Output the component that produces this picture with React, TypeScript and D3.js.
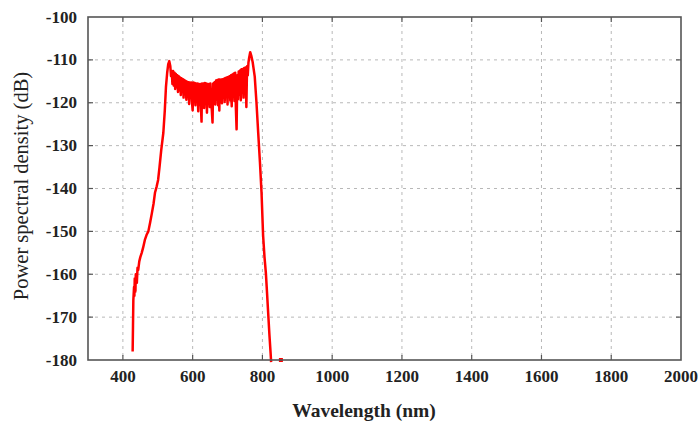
import React from "react";
import * as d3 from "d3";

// Spectrum samples: wavelength (nm)
const wavelengths = [
  428, 429, 430, 432, 433, 434, 436, 437, 440, 442, 444, 447, 450, 454, 458, 463, 468, 473, 478, 483, 488, 492, 497, 501,
  505, 510, 516, 520, 523.5, 527, 530, 533,
  536, 538, 540, 542, 544, 546, 548, 550, 552, 554, 556, 558, 560, 562, 564, 566, 568, 570, 572, 574, 576, 578, 580,
  582, 584, 586, 588, 590, 592, 594, 596, 598, 600, 602, 604, 606, 608, 610, 612, 614, 616, 618, 620, 622, 624, 625.5,
  627, 629, 631, 633, 635, 637, 639, 641, 643, 645, 647, 649, 651, 653, 655, 657, 659, 661, 663, 665, 667, 669, 671,
  673, 675, 676.5, 678, 680, 682, 684, 686, 688, 690, 692, 694, 696, 698, 700, 702, 704, 706, 708, 710, 712, 714, 716,
  718, 720, 722, 724, 726, 728, 730, 732, 734, 736, 738, 740, 742, 744, 746, 748, 750, 752, 754, 756, 758, 760, 762,
  765, 768, 772, 778, 783, 788, 793, 797.5, 802, 806, 810, 813, 816.5, 820, 823.5, 825,
];
// Power spectral density (dB) at each wavelength above
const psd = [
  -178, -172, -166, -163, -165, -161, -164, -160, -162, -158.5, -159, -157, -156, -155, -153.8, -152, -150.8, -150, -148, -145.8, -143.5, -141, -139.5, -138,
  -135, -131, -127, -122, -116.3, -113, -111, -110.3,
  -111.5, -113.8, -112.6, -115.6, -112.6, -116, -113, -116.8, -113.3, -116.2, -113.6, -117.5, -113.8, -117, -114.1, -118.2, -114.3, -117.4, -114.5, -118.8, -114.7, -118, -114.9,
  -119.3, -115.1, -118.4, -115.2, -120.3, -115.3, -118.9, -115.3, -119.6, -121.8, -115.3, -119.2, -115.4, -120.6, -115.5, -119.4, -115.5, -122, -115.6, -120.4, -115.6, -121.5, -124.4,
  -115.5, -120.6, -115.5, -121.2, -115.4, -119.8, -115.5, -122.3, -115.6, -120.2, -115.6, -121, -115.5, -119.6, -121.8, -124.6, -115.5, -119.6, -115.2, -120.4, -114.8, -119.3, -114.7,
  -120.6, -114.6, -121.8, -114.6, -119.2, -114.6, -120.1, -114.5, -118.8, -114.4, -119.8, -114.2, -118.6, -114.1, -120.4, -114, -118.7, -113.8, -119.5, -113.6, -120.8, -113.4, -118.3,
  -113.2, -119.6, -113, -121.4, -126.2, -113.6, -119.2, -112.7, -118.1, -112.5, -119.4, -112.2, -117.6, -112.1, -118.8, -111.9, -117.3, -111.8, -121, -111.5, -113.6, -110.6, -109.5,
  -108.2, -109, -110.5, -113.9, -120, -127.1, -134, -141, -151, -156, -159.8, -164, -169, -174, -178.4, -180.5,
];
// Isolated sample beyond the main band
const strayWavelengths = [853];
const strayPsd = [-180];

const xTicks = [400, 600, 800, 1000, 1200, 1400, 1600, 1800, 2000];
const yTicks = [-100, -110, -120, -130, -140, -150, -160, -170, -180];

const W = 700;
const H = 425;
const left = 88;
const right = 681;
const top = 17;
const bottom = 360;

export default function App() {
  const x = d3.scaleLinear().domain([300, 2000]).range([left, right]);
  const y = d3.scaleLinear().domain([-180, -100]).range([bottom, top]);

  const points: [number, number][] = wavelengths.map((w, i) => [w, psd[i]]);
  const line = d3
    .line<[number, number]>()
    .x((d) => x(d[0]))
    .y((d) => y(d[1]));

  const serif = "'Liberation Serif', 'DejaVu Serif', serif";
  const tickLen = 5;

  return (
    <svg width={W} height={H} style={{ position: "absolute", left: 0, top: 0, background: "#fff" }}>
      {/* grid */}
      <g stroke="#b8b8b8" strokeWidth={1} strokeDasharray="3,4">
        {xTicks.slice(0, -1).map((t) => (
          <line key={"gx" + t} x1={x(t)} x2={x(t)} y1={top} y2={bottom} />
        ))}
        {yTicks.slice(1, -1).map((t) => (
          <line key={"gy" + t} x1={left} x2={right} y1={y(t)} y2={y(t)} />
        ))}
      </g>

      {/* tick marks on all sides */}
      <g stroke="#555" strokeWidth={1.2}>
        {xTicks.slice(0, -1).map((t) => (
          <g key={"tx" + t}>
            <line x1={x(t)} x2={x(t)} y1={bottom} y2={bottom - tickLen} />
            <line x1={x(t)} x2={x(t)} y1={top} y2={top + tickLen} />
          </g>
        ))}
        {yTicks.slice(1, -1).map((t) => (
          <g key={"ty" + t}>
            <line x1={left} x2={left + tickLen} y1={y(t)} y2={y(t)} />
            <line x1={right} x2={right - tickLen} y1={y(t)} y2={y(t)} />
          </g>
        ))}
      </g>

      {/* spectrum */}
      <path d={line(points) ?? ""} fill="none" stroke="#ff0000" strokeWidth={2.5} strokeLinejoin="round" />
      {strayWavelengths.map((w, i) => (
        <rect key={"s" + i} x={x(w) - 2} y={y(strayPsd[i]) - 2} width={4} height={4} fill="#ff0000" />
      ))}

      {/* frame */}
      <rect x={left} y={top} width={right - left} height={bottom - top} fill="none" stroke="#555" strokeWidth={1.6} />

      {/* tick labels */}
      <g fontFamily={serif} fontWeight="bold" fontSize={17} fill="#222">
        {xTicks.map((t) => (
          <text key={"lx" + t} x={x(t)} y={382} textAnchor="middle">
            {t}
          </text>
        ))}
        {yTicks.map((t) => (
          <text key={"ly" + t} x={77} y={y(t) + 5.5} textAnchor="end">
            {t}
          </text>
        ))}
      </g>

      {/* axis titles */}
      <text x={364} y={417} textAnchor="middle" fontFamily={serif} fontWeight="bold" fontSize={19.5} fill="#222">
        Wavelength (nm)
      </text>
      <text
        transform={`translate(28, 186) rotate(-90)`}
        textAnchor="middle"
        fontFamily={serif}
        fontSize={20.5}
        fill="#222"
      >
        Power spectral density (dB)
      </text>
    </svg>
  );
}
